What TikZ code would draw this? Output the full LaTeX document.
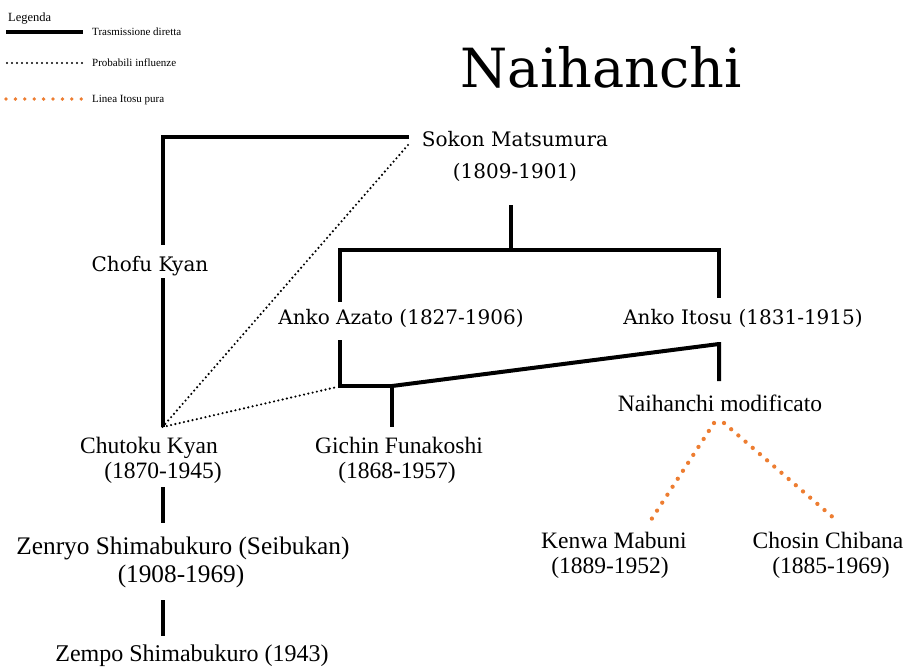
\documentclass[tikz,border=0pt]{standalone}
\usepackage{fontspec}
\setmainfont{Liberation Serif}
\newfontfamily\cambria{DejaVu Serif}
\definecolor{itosu}{RGB}{237,125,49}
\begin{document}
\begin{tikzpicture}[x=1pt,y=-1pt,
  solidline/.style={line width=4pt},
  dotline/.style={line width=2.4pt, line cap=round, dash pattern=on 0pt off 4.4pt},
  orangeline/.style={draw=itosu, line width=4.3pt, line cap=round, dash pattern=on 0pt off 9.5pt},
  tnr/.style={inner sep=0pt, anchor=base, font=\fontsize{23.5}{26}\selectfont},
  tnrbig/.style={inner sep=0pt, anchor=base, font=\fontsize{25.3}{28}\selectfont},
  cmb/.style={inner sep=0pt, anchor=base, font=\cambria\fontsize{20}{24}\selectfont},
  leg/.style={inner sep=0pt, anchor=base west, font=\fontsize{11}{13}\selectfont}]
\useasboundingbox (0,0) rectangle (909,667);

% legend
\node[leg, font=\fontsize{12.5}{14}\selectfont] (legtitle) at (8,21) {Legenda};
\coordinate (la1) at (6,32);  \coordinate (la2) at (83,32);
\coordinate (lb1) at (7,63);  \coordinate (lb2) at (83,63);
\coordinate (lc1) at (6,99);  \coordinate (lc2) at (82,99);
\draw[line width=3.7pt] (la1) -- (la2);
\draw[line width=2.2pt, line cap=round, dash pattern=on 0pt off 5pt] (lb1) -- (lb2);
\draw[draw=itosu, line width=3.8pt, line cap=round, dash pattern=on 0pt off 9.4pt] (lc1) -- (lc2);
\node[leg] (legA) at (92,35) {Trasmissione diretta};
\node[leg] (legB) at (92,66) {Probabili influenze};
\node[leg] (legC) at (92,102) {Linea Itosu pura};

% title
\node[inner sep=0pt, anchor=base, font=\cambria\fontsize{54}{60}\selectfont] (title) at (601,87) {Naihanchi};

% people
\node[cmb] (sokon) at (515,146) {Sokon Matsumura};
\node[cmb] (sokonY) at (515,178) {(1809-1901)};
\node[cmb] (chofu) at (150,271) {Chofu Kyan};
\node[cmb] (azato) at (401,324) {Anko Azato (1827-1906)};
\node[cmb] (itosu) at (743,324) {Anko Itosu (1831-1915)};
\node[tnr] (modif) at (720,411) {Naihanchi modificato};
\node[tnr] (chutoku) at (149,453) {Chutoku Kyan};
\node[tnr] (chutokuY) at (163,478) {(1870-1945)};
\node[tnr] (gichin) at (399,453) {Gichin Funakoshi};
\node[tnr] (gichinY) at (397,478) {(1868-1957)};
\node[tnrbig] (zenryo) at (183,554) {Zenryo Shimabukuro (Seibukan)};
\node[tnrbig] (zenryoY) at (181,582) {(1908-1969)};
\node[tnr, font=\fontsize{24}{26}\selectfont] (zempo) at (192,661) {Zempo Shimabukuro (1943)};
\node[tnr] (kenwa) at (614,548) {Kenwa Mabuni};
\node[tnr] (kenwaY) at (610,573) {(1889-1952)};
\node[tnr] (chosin) at (828,548) {Chosin Chibana};
\node[tnr] (chosinY) at (831,573) {(1885-1969)};

% junction coordinates
\coordinate (sokL) at (409,137);
\coordinate (kyanTop) at (162.5,137);
\coordinate (chofuA) at (162.5,245);
\coordinate (chofuB) at (162.5,278);
\coordinate (kyanBot) at (162.5,427);
\coordinate (sokDot) at (408,145);
\coordinate (stemT) at (511,205);
\coordinate (stemB) at (511,250);
\coordinate (barL) at (340,250);
\coordinate (barR) at (719,250);
\coordinate (azatoT) at (340,302);
\coordinate (itosuT) at (719,298);
\coordinate (azatoB) at (339.5,340);
\coordinate (azatoJ) at (339.5,386);
\coordinate (gichJ) at (392,386);
\coordinate (gichB) at (392,427);
\coordinate (itosuB) at (719,342);
\coordinate (modT) at (719,381);
\coordinate (itosuK) at (719,344);
\coordinate (azDot) at (337,387);
\coordinate (kyanD) at (162.5,523);
\coordinate (kyanE) at (162.5,487);
\coordinate (zenD) at (162.5,600);
\coordinate (zenE) at (162.5,636);
\coordinate (orL) at (714,423);
\coordinate (orR) at (724,423);
\coordinate (kenT) at (649,523);
\coordinate (choT) at (836,520);

% direct transmission
\draw[solidline, line join=miter] (sokL) -- (kyanTop) -- (chofuA);
\draw[solidline] (chofuB) -- (kyanBot);
\draw[solidline] (stemT) -- (stemB);
\draw[solidline, line join=miter] (azatoT) -- (barL) -- (barR) -- (itosuT);
\draw[solidline, line join=miter] (azatoB) -- (azatoJ) -- (gichJ);
\draw[solidline] (gichJ) -- (gichB);
\draw[solidline, line join=miter] (gichJ) -- (itosuK) -- (itosuB) -- (modT);
\draw[solidline] (kyanE) -- (kyanD);
\draw[solidline] (zenD) -- (zenE);

% probable influences
\draw[dotline] (sokDot) -- (kyanBot);
\draw[dotline] (kyanBot) -- (azDot);

% pure Itosu line
\draw[orangeline] (orL) -- (kenT);
\draw[orangeline] (orR) -- (choT);
\end{tikzpicture}
\end{document}
